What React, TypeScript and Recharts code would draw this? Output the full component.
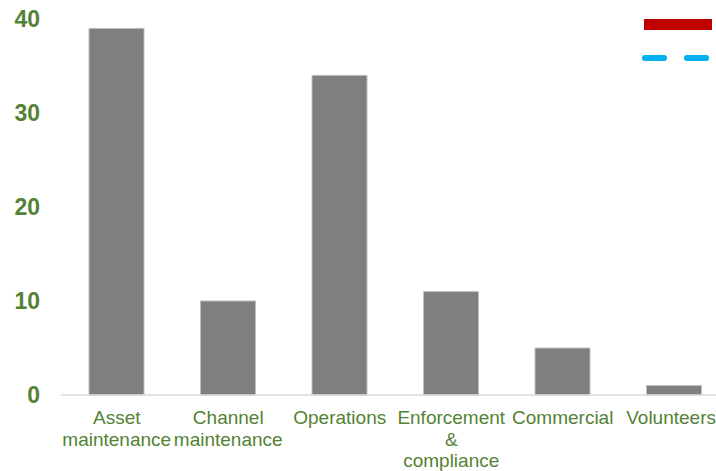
import React from 'react'
import { ComposedChart, Bar, Line, XAxis, YAxis, Legend } from 'recharts'

const categories = [
  'Asset maintenance',
  'Channel maintenance',
  'Operations',
  'Enforcement & compliance',
  'Commercial',
  'Volunteers',
]
const staffCounts = [39, 10, 34, 11, 5, 1]
const yTicks = [0, 10, 20, 30, 40]

// split label lines the way the original wraps them
const labelLines: Record<string, string[]> = {
  'Asset maintenance': ['Asset', 'maintenance'],
  'Channel maintenance': ['Channel', 'maintenance'],
  'Enforcement & compliance': ['Enforcement', '&', 'compliance'],
}

const GREEN = '#548235'
const FONT = 'Arial, "Liberation Sans", sans-serif'
const VISIBLE_WIDTH = 716

const data = categories.map((name, i) => ({
  name,
  count: staffCounts[i],
  target: null,
  average: null,
}))

function CategoryTick(props: any) {
  const { x, y, payload, index } = props
  const lines = labelLines[payload.value] ?? [payload.value]
  // last label gets pulled back inside the visible frame, like the original
  const isLast = index === categories.length - 1
  const tx = isLast ? VISIBLE_WIDTH : x
  return (
    <text x={tx} y={y} textAnchor={isLast ? 'end' : 'middle'} fill={GREEN} fontSize={19} fontFamily={FONT}>
      {lines.map((line, i) => (
        <tspan key={i} x={tx} dy={i === 0 ? 29 : 21.5}>
          {line}
        </tspan>
      ))}
    </text>
  )
}

// zero-height wrapper so the legend doesn't eat into the plot area
function LegendMarks() {
  return (
    <div style={{ position: 'relative', height: 0 }}>
      <svg width={80} height={60} style={{ position: 'absolute', left: 0, top: 0 }}>
        <rect x={4} y={7} width={68} height={11} fill="#c00000" />
        <line
          x1={5}
          y1={46}
          x2={69}
          y2={46}
          stroke="#00b0f0"
          strokeWidth={6}
          strokeLinecap="round"
          strokeDasharray="19 23"
        />
      </svg>
    </div>
  )
}

export default function App() {
  return (
    <div style={{ position: 'fixed', left: 0, top: 0, width: VISIBLE_WIDTH, height: 471, overflow: 'hidden', background: '#fff' }}>
      <ComposedChart
        width={730}
        height={471}
        data={data}
        margin={{ top: 19, right: 0, bottom: 0, left: 0 }}
      >
        <XAxis
          dataKey="name"
          interval={0}
          height={76}
          tickLine={false}
          tickSize={0}
          tickMargin={0}
          axisLine={{ stroke: '#d9d9d9', strokeWidth: 1.5 }}
          tick={<CategoryTick />}
        />
        <YAxis
          width={61}
          domain={[0, 40]}
          ticks={yTicks}
          axisLine={false}
          tickLine={false}
          tickSize={0}
          tickMargin={21}
          tick={{ fill: GREEN, fontSize: 23, fontWeight: 'bold', fontFamily: FONT }}
        />
        <Legend
          verticalAlign="top"
          align="right"
          wrapperStyle={{ position: 'absolute', left: 640, top: 12, width: 80, height: 0 }}
          content={() => <LegendMarks />}
        />
        <Bar
          dataKey="count"
          barSize={55}
          fill="#7f7f7f"
          stroke="#bfbfbf"
          strokeWidth={1}
          isAnimationActive={false}
        />
        <Line dataKey="target" stroke="#c00000" dot={false} isAnimationActive={false} />
        <Line dataKey="average" stroke="#00b0f0" strokeDasharray="8 8" dot={false} isAnimationActive={false} />
      </ComposedChart>
    </div>
  )
}
